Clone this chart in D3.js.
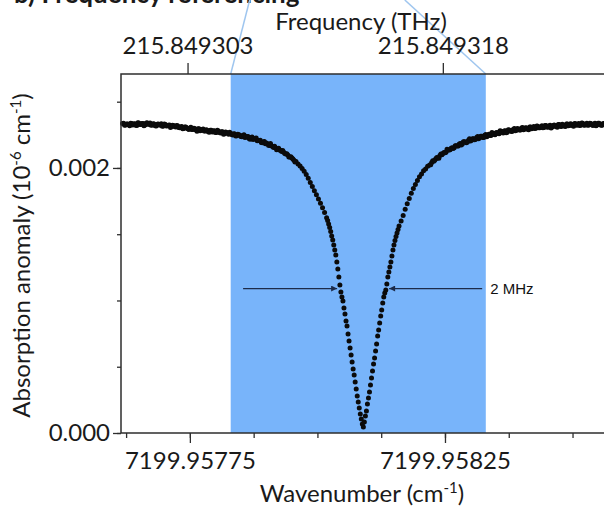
<!DOCTYPE html>
<html>
<head>
<meta charset="utf-8">
<script src="https://cdn.jsdelivr.net/npm/d3@7"></script>
<style>
  html, body { margin: 0; padding: 0; background: #fff; }
  svg { display: block; font-family: Lato, "Open Sans", sans-serif; }
</style>
</head>
<body>
<div id="chart"></div>
<script>
// scan points: wavenumber above 7199.9576 cm^-1, in 1e-6 cm^-1
const wnBase = 7199.9576
const wnOffset = [
  18,22,26,30,34,38,42,46,50,54,58,62,66,70,74,78,82,86,90,94,98,102,106,110,114,118,122,126,130,134,
  138,142,146,150,154,158,162,166,170,174,178,182,186,190,194,198,202,206,210,214,218,222,226,230,234,238,
  242,246,250,254,258,262,266,270,274,278,282,286,290,294,298,302,306,310,314,318,322,326,330,334,338,342,
  346,350,354,358,362,366,370,374,378,382,386,390,394,398,402,406,410,414,418,
  420,422,424,426,428,430,432,434,436,438,440,442,444,446,448,450,452,454,456,458,460,462,464,466,468,470,
  472,474,476,478,480,482,484,486,488,490,492,494,496,498,500,502,504,506,508,510,512,514,516,518,520,522,
  524,526,528,530,532,534,536,538,540,542,544,546,548,550,552,554,556,558,560,
  564,568,572,576,580,584,588,592,596,600,604,608,612,616,620,624,628,632,636,640,644,648,652,656,660,664,
  668,672,676,680,684,688,692,696,700,704,708,712,716,720,724,728,732,736,740,744,748,752,756,760,764,768,
  772,776,780,784,788,792,796,800,804,808,812,816,820,824,828,832,836,840,844,848,852,856,860,864,868,872,
  876,880,884,888,892,896,900,904,908,912,916,920,924,928,932,936,940,944,948,952,956,960
]
// absorption anomaly (10^-6 cm^-1)
const anomaly = [
  0.002335,0.002322,0.002331,0.002326,0.002338,0.002324,0.002333,0.002321,0.002340,0.002327,0.002336,0.002325,
  0.002342,0.002330,0.002322,0.002334,0.002319,0.002330,0.002324,0.002333,0.002316,0.002327,0.002318,0.002324,
  0.002312,0.002321,0.002309,0.002318,0.002304,0.002313,0.002298,0.002309,0.002296,0.002302,0.002290,0.002299,
  0.002286,0.002295,0.002281,0.002291,0.002279,0.002288,0.002274,0.002284,0.002271,0.002280,0.002268,0.002278,
  0.002263,0.002273,0.002259,0.002268,0.002254,0.002262,0.002249,0.002257,0.002243,0.002251,0.002237,0.002245,
  0.002230,0.002238,0.002223,0.002229,0.002214,0.002220,0.002206,0.002208,0.002193,0.002195,0.002183,0.002182,
  0.002170,0.002168,0.002155,0.002152,0.002140,0.002136,0.002124,0.002118,0.002106,0.002098,0.002083,0.002075,
  0.002058,0.002048,0.002030,0.002015,0.001996,0.001976,0.001950,0.001922,0.001891,0.001860,0.001828,0.001797,
  0.001765,0.001733,0.001700,0.001664,0.001625,
  0.001603,0.001578,0.001550,0.001520,0.001487,0.001457,0.001419,0.001381,0.001343,0.001291,0.001238,0.001177,
  0.001117,0.001064,0.001026,0.000996,0.000943,0.000898,0.000845,0.000808,0.000747,0.000694,0.000642,0.000589,
  0.000536,0.000483,0.000438,0.000385,0.000332,0.000279,0.000234,0.000189,0.000143,0.000106,0.000068,0.000045,
  0.000083,0.000128,0.000166,0.000219,0.000264,0.000309,0.000362,0.000415,0.000468,0.000521,0.000566,0.000619,
  0.000672,0.000732,0.000777,0.000830,0.000883,0.000928,0.000981,0.001026,0.001057,0.001079,0.001125,0.001177,
  0.001215,0.001253,0.001291,0.001336,0.001381,0.001419,0.001452,0.001482,0.001510,0.001536,0.001562,
  0.001600,0.001641,0.001688,0.001730,0.001770,0.001809,0.001845,0.001876,0.001905,0.001934,0.001955,0.001979,
  0.001992,0.002012,0.002022,0.002041,0.002050,0.002070,0.002076,0.002094,0.002100,0.002117,0.002119,0.002136,
  0.002138,0.002153,0.002152,0.002168,0.002165,0.002184,0.002180,0.002198,0.002190,0.002210,0.002203,0.002220,
  0.002212,0.002230,0.002221,0.002240,0.002229,0.002246,0.002236,0.002254,0.002245,0.002261,0.002250,0.002268,
  0.002258,0.002277,0.002264,0.002281,0.002270,0.002287,0.002276,0.002292,0.002281,0.002297,0.002286,0.002301,
  0.002289,0.002304,0.002293,0.002309,0.002296,0.002312,0.002300,0.002315,0.002303,0.002318,0.002305,0.002321,
  0.002308,0.002322,0.002309,0.002325,0.002312,0.002327,0.002314,0.002329,0.002316,0.002331,0.002318,0.002333,
  0.002320,0.002335,0.002322,0.002336,0.002323,0.002337,0.002322,0.002338,0.002324,0.002336,0.002321,0.002338,
  0.002325,0.002337,0.002323,0.002336
]
// interleaved scan points in the two flat wings
const wnOffsetB = [
  20,24,28,32,36,40,44,48,52,56,60,64,68,72,76,80,84,88,92,96,100,104,108,112,116,120,124,128,132,136,
  140,144,148,152,156,160,164,168,172,176,180,184,188,192,196,200,204,208,212,216,220,224,228,232,236,240,
  244,248,252,256,260,264,268,272,276,280,284,288,292,296,300,304,308,312,316,320,324,328,332,336,340,344,
  348,352,356,
  622,626,630,634,638,642,646,650,654,658,662,666,670,674,678,682,686,690,694,698,702,706,710,714,718,722,
  726,730,734,738,742,746,750,754,758,762,766,770,774,778,782,786,790,794,798,802,806,810,814,818,822,826,
  830,834,838,842,846,850,854,858,862,866,870,874,878,882,886,890,894,898,902,906,910,914,918,922,926,930,
  934,938,942,946,950,954,958
]
const anomalyB = [
  0.002337,0.002324,0.002332,0.002319,0.002336,0.002331,0.002322,0.002341,0.002328,0.002336,0.002319,0.002338,
  0.002329,0.002339,0.002324,0.002331,0.002317,0.002331,0.002325,0.002314,0.002332,0.002317,0.002323,0.002305,
  0.002322,0.002313,0.002321,0.002305,0.002310,0.002295,0.002309,0.002302,0.002290,0.002307,0.002290,0.002296,
  0.002277,0.002295,0.002285,0.002294,0.002278,0.002284,0.002270,0.002284,0.002278,0.002267,0.002284,0.002268,
  0.002274,0.002255,0.002272,0.002261,0.002269,0.002252,0.002258,0.002242,0.002255,0.002247,0.002235,0.002251,
  0.002234,0.002238,0.002217,0.002233,0.002221,0.002227,0.002207,0.002209,0.002190,0.002200,0.002189,0.002172,
  0.002184,0.002162,0.002163,0.002138,0.002148,0.002131,0.002132,0.002109,0.002108,0.002082,0.002085,0.002067,
  0.002045,
  0.002024,0.002055,0.002058,0.002078,0.002074,0.002105,0.002109,0.002114,0.002142,0.002135,0.002148,0.002146,
  0.002168,0.002165,0.002180,0.002173,0.002198,0.002196,0.002195,0.002220,0.002209,0.002220,0.002217,0.002237,
  0.002230,0.002240,0.002229,0.002252,0.002247,0.002244,0.002267,0.002255,0.002265,0.002260,0.002280,0.002271,
  0.002279,0.002266,0.002288,0.002282,0.002277,0.002298,0.002285,0.002293,0.002287,0.002305,0.002294,0.002302,
  0.002289,0.002309,0.002303,0.002297,0.002317,0.002303,0.002310,0.002303,0.002320,0.002309,0.002316,0.002302,
  0.002321,0.002314,0.002308,0.002328,0.002313,0.002320,0.002313,0.002331,0.002321,0.002329,0.002314,0.002334,
  0.002326,0.002320,0.002340,0.002324,0.002330,0.002322,0.002338,0.002326,0.002332,0.002318,0.002337,0.002330,
  0.002323
]

const wnTicks = [7199.95775, 7199.95825]
const freqTicks = [215.849303, 215.849318]
const anomalyTicks = [0, 0.002]
const zoomBand = [7199.95783, 7199.95833]   // shaded region, cm^-1
const fwhmLevel = 0.00109
const fwhmTips = [7199.9580386, 7199.9581405]
const fwhmTails = [7199.9578543, 7199.9583229]
const fwhmLabel = "2 MHz"

const C_THZ = 0.0299792458  // THz per cm^-1

const W = 604, H = 506
const frame = { left: 121, top: 74, bottom: 433, right: 621 }

const data = wnOffset.map((o, i) => ({ wn: wnBase + o * 1e-6, a: anomaly[i] }))
  .concat(wnOffsetB.map((o, i) => ({ wn: wnBase + o * 1e-6, a: anomalyB[i] })))

const x = d3.scaleLinear().domain([7199.957615, 7199.958595]).range([frame.left, frame.right])
const xTop = d3.scaleLinear().domain(x.domain().map(v => v * C_THZ)).range(x.range())
const y = d3.scaleLinear().domain([0, 0.002709]).range([frame.bottom, frame.top])

const svg = d3.select("#chart").append("svg")
  .attr("width", W)
  .attr("height", H)

// cut-off panel title
svg.append("text")
  .attr("x", 14).attr("y", 3)
  .attr("font-size", 26).attr("font-weight", "bold")
  .attr("fill", "#1a1a1a")
  .text("b) Frequency referencing")

// zoom connector lines
svg.append("g")
  .attr("stroke", "#9fc6ef").attr("stroke-width", 1.5).attr("fill", "none")
  .selectAll("line")
  .data([[zoomBand[0], 19], [zoomBand[1], -81]])
  .join("line")
  .attr("x1", d => x(d[0])).attr("y1", frame.top)
  .attr("x2", d => x(d[0]) + d[1]).attr("y2", 0)

// shaded band
svg.append("rect")
  .attr("x", x(zoomBand[0]))
  .attr("y", frame.top)
  .attr("width", x(zoomBand[1]) - x(zoomBand[0]))
  .attr("height", frame.bottom - frame.top)
  .attr("fill", "#78b4fa")

// data
svg.append("g")
  .attr("fill", "#0b0b0b")
  .selectAll("circle")
  .data(data)
  .join("circle")
  .attr("cx", d => x(d.wn))
  .attr("cy", d => y(d.a))
  .attr("r", 2.5)

// FWHM arrows
svg.append("defs").append("marker")
  .attr("id", "head")
  .attr("viewBox", "0 0 10 10")
  .attr("refX", 10).attr("refY", 5)
  .attr("markerWidth", 9).attr("markerHeight", 6)
  .attr("markerUnits", "userSpaceOnUse")
  .attr("orient", "auto")
  .append("path")
  .attr("d", "M0,0L10,5L0,10Z")
  .attr("fill", "#1c2b4a")

svg.append("g")
  .selectAll("line")
  .data([0, 1])
  .join("line")
  .attr("x1", i => x(fwhmTails[i])).attr("y1", y(fwhmLevel))
  .attr("x2", i => x(fwhmTips[i])).attr("y2", y(fwhmLevel))
  .attr("stroke", "#1c2b4a").attr("stroke-width", 1.2)
  .attr("marker-end", "url(#head)")

svg.append("text")
  .attr("x", x(fwhmTails[1]) + 8)
  .attr("y", y(fwhmLevel))
  .attr("dy", "0.35em")
  .attr("font-family", "'Liberation Sans', Arial, sans-serif")
  .attr("font-size", 15)
  .attr("fill", "#111")
  .text(fwhmLabel)

// frame
svg.append("path")
  .attr("d", `M${W + 20},${frame.top}H${frame.left}V${frame.bottom}H${W + 20}`)
  .attr("fill", "none")
  .attr("stroke", "#2e2e2e")
  .attr("stroke-width", 1.5)

function styleAxis(g, labels) {
  g.select(".domain").remove()
  g.attr("font-family", null).attr("font-size", 24)
  g.selectAll("line").attr("stroke", "#2e2e2e").attr("stroke-width", 1.3)
  g.selectAll("text").attr("fill", "#1a1a1a")
  if (!labels) g.selectAll("text").remove()
}

// bottom axis
svg.append("g")
  .attr("transform", `translate(0,${frame.bottom})`)
  .call(d3.axisBottom(x).tickValues(d3.range(7199.957625, 7199.9586, 0.000125)).tickSize(5))
  .call(g => styleAxis(g, false))
svg.append("g")
  .attr("transform", `translate(0,${frame.bottom})`)
  .call(d3.axisBottom(x).tickValues(wnTicks).tickSize(10).tickPadding(9).tickFormat(d3.format(".5f")))
  .call(g => styleAxis(g, true))

// top axis
svg.append("g")
  .attr("transform", `translate(0,${frame.top})`)
  .call(d3.axisTop(xTop).tickValues(freqTicks).tickSize(11).tickPadding(9).tickFormat(d3.format(".6f")))
  .call(g => styleAxis(g, true))

// left axis
svg.append("g")
  .attr("transform", `translate(${frame.left},0)`)
  .call(d3.axisLeft(y).tickValues(d3.range(0, 0.0027, 0.0005)).tickSize(4))
  .call(g => styleAxis(g, false))
svg.append("g")
  .attr("transform", `translate(${frame.left},0)`)
  .call(d3.axisLeft(y).tickValues(anomalyTicks).tickSize(8).tickPadding(3).tickFormat(d3.format(".3f")))
  .call(g => styleAxis(g, true))

// axis titles
svg.append("text")
  .attr("x", 361).attr("y", 30)
  .attr("text-anchor", "middle")
  .attr("font-size", 24).attr("fill", "#1a1a1a")
  .text("Frequency (THz)")

const xTitle = svg.append("text")
  .attr("x", 362).attr("y", 502)
  .attr("text-anchor", "middle")
  .attr("font-size", 24).attr("fill", "#1a1a1a")
xTitle.append("tspan").text("Wavenumber (cm")
xTitle.append("tspan").attr("dy", -9).attr("font-size", 15).text("-1")
xTitle.append("tspan").attr("dy", 9).text(")")

const yTitle = svg.append("text")
  .attr("transform", `translate(30,${(frame.top + frame.bottom) / 2 + 2}) rotate(-90)`)
  .attr("text-anchor", "middle")
  .attr("font-size", 24).attr("fill", "#1a1a1a")
yTitle.append("tspan").text("Absorption anomaly (10")
yTitle.append("tspan").attr("dy", -9).attr("font-size", 15).text("-6")
yTitle.append("tspan").attr("dy", 9).text(" cm")
yTitle.append("tspan").attr("dy", -9).attr("font-size", 15).text("-1")
yTitle.append("tspan").attr("dy", 9).text(")")
</script>
</body>
</html>
